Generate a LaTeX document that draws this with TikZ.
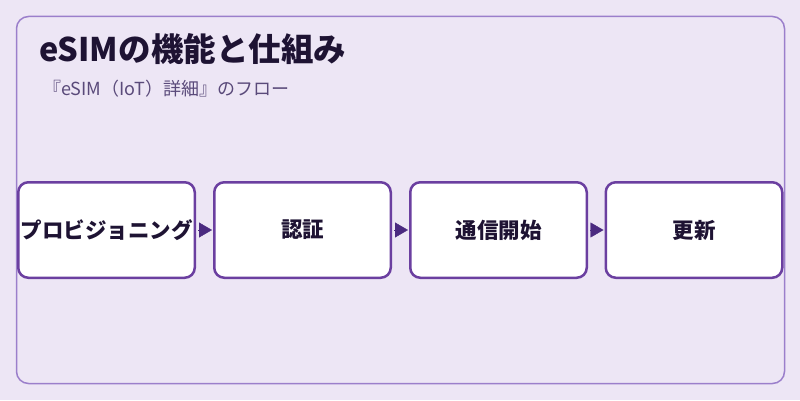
\documentclass[tikz,border=0pt]{standalone}
\usepackage{fontspec}
\setmainfont{Noto Sans CJK JP}
\usetikzlibrary{arrows.meta}
\definecolor{bgc}{HTML}{EDE6F5}
\definecolor{framec}{HTML}{9B7FCB}
\definecolor{boxc}{HTML}{6B3FA0}
\definecolor{arrowc}{HTML}{4B2A80}
\definecolor{titlec}{HTML}{1E1333}
\definecolor{subc}{HTML}{5A4A7A}
\tikzset{
  stepbox/.style={draw=boxc, fill=white, line width=2.5pt, rounded corners=10pt,
    minimum width=176.5pt, minimum height=95.5pt, inner sep=0pt,
    font=\bfseries\fontsize{21.5}{24}\selectfont, text=titlec},
  flow/.style={-{Triangle[length=13pt,width=15pt]}, arrowc, line width=0.4pt, shorten >=1pt, shorten <=2pt},
}
\begin{document}
\begin{tikzpicture}[x=1pt,y=1pt]
\useasboundingbox[fill=bgc] (0,0) rectangle (800,400);
\draw[framec, line width=1.5pt, rounded corners=12pt] (16.5,16.5) rectangle (784.5,383.5);
\node[anchor=base west, font=\bfseries\fontsize{32.5}{36}\selectfont, text=titlec, inner sep=0pt] (title) at (39,338) {eSIMの機能と仕組み};
\node[anchor=base west, font=\fontsize{18}{21}\selectfont, text=subc, inner sep=0pt] (sub) at (43,305) {『eSIM（IoT）詳細』のフロー};
\node[stepbox] (b1) at (106.5,170) {プロビジョニング};
\node[stepbox] (b2) at (302.5,170) {認証};
\node[stepbox] (b3) at (498.5,170) {通信開始};
\node[stepbox] (b4) at (694,170) {更新};
\draw[flow] (b1) -- (b2);
\draw[flow] (b2) -- (b3);
\draw[flow] (b3) -- (b4);
\end{tikzpicture}
\end{document}
